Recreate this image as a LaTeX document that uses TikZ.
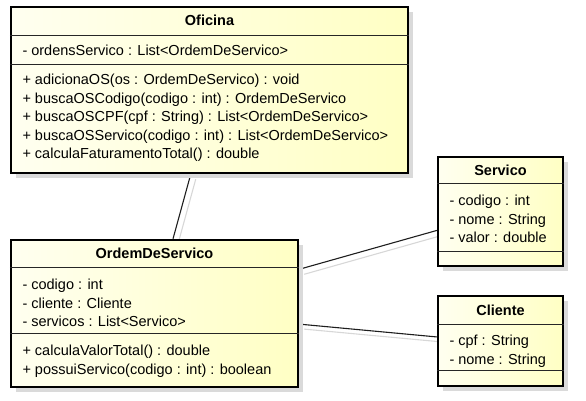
\documentclass[tikz,border=0pt]{standalone}
\usepackage{fontspec}
\setmainfont{Liberation Sans}
\usetikzlibrary{shadows,calc,backgrounds}
\definecolor{boxlight}{RGB}{255,255,240}
\definecolor{boxdark}{RGB}{255,255,196}
\definecolor{shadowgray}{RGB}{218,218,218}
\definecolor{lineshadow}{RGB}{215,215,215}
\definecolor{conn}{RGB}{30,30,30}
\begin{document}
\begin{tikzpicture}[x=1pt,y=-1pt,
  classbox/.style={draw=black, line width=2.4pt, inner sep=0pt,
    left color=boxlight, right color=boxdark,
    drop shadow={shadow xshift=5pt, shadow yshift=-5pt, fill=shadowgray, opacity=1}},
  sep/.style={draw=black!85, line width=1.1pt},
  ctitle/.style={anchor=center, inner sep=0pt, text height=10pt, text depth=3pt, font=\fontsize{14.5}{17}\selectfont\bfseries},
  member/.style={anchor=west, inner sep=0pt, text height=10pt, text depth=3pt, font=\fontsize{14.5}{17}\selectfont},
  assoc/.style={draw=conn, line width=1.1pt},
  assocshadow/.style={draw=lineshadow, line width=1.1pt}]
\useasboundingbox (0,0) rectangle (586,400);

% class boxes
\node[classbox, minimum width=397pt, minimum height=166pt] (ofi) at (209.5,90) {};
\node[classbox, minimum width=287pt, minimum height=147pt] (ods) at (154.5,313.5) {};
\node[classbox, minimum width=125pt, minimum height=109pt] (srv) at (500.5,211.5) {};
\node[classbox, minimum width=125pt, minimum height=90pt] (cli) at (500.5,341) {};

% compartments
\draw[sep] ([yshift=-30pt]ofi.north west) -- ([yshift=-30pt]ofi.north east);
\draw[sep] ([yshift=-58.5pt]ofi.north west) -- ([yshift=-58.5pt]ofi.north east);
\draw[sep] ([yshift=-28.5pt]ods.north west) -- ([yshift=-28.5pt]ods.north east);
\draw[sep] ([yshift=-95pt]ods.north west) -- ([yshift=-95pt]ods.north east);
\draw[sep] ([yshift=-27.5pt]srv.north west) -- ([yshift=-27.5pt]srv.north east);
\draw[sep] ([yshift=-96pt]srv.north west) -- ([yshift=-96pt]srv.north east);
\draw[sep] ([yshift=-29.5pt]cli.north west) -- ([yshift=-29.5pt]cli.north east);
\draw[sep] ([yshift=-76pt]cli.north west) -- ([yshift=-76pt]cli.north east);

% Oficina
\node[ctitle] (ofi-t) at ($(ofi.north)+(0,16.5)$) {Oficina};
\node[member] (ofi-a1) at ($(ofi.north west)+(12.5,46.5)$) {- ordensServico : List<OrdemDeServico>};
\node[member] (ofi-m1) at ($(ofi.north west)+(12.5,75.5)$) {+ adicionaOS(os : OrdemDeServico) : void};
\node[member] (ofi-m2) at ($(ofi.north west)+(12.5,94)$) {+ buscaOSCodigo(codigo : int) : OrdemDeServico};
\node[member] (ofi-m3) at ($(ofi.north west)+(12.5,112.5)$) {+ buscaOSCPF(cpf : String) : List<OrdemDeServico>};
\node[member] (ofi-m4) at ($(ofi.north west)+(12.5,131)$) {+ buscaOSServico(codigo : int) : List<OrdemDeServico>};
\node[member] (ofi-m5) at ($(ofi.north west)+(12.5,149.5)$) {+ calculaFaturamentoTotal() : double};

% OrdemDeServico
\node[ctitle] (ods-t) at ($(ods.north)+(0,16.5)$) {OrdemDeServico};
\node[member] (ods-a1) at ($(ods.north west)+(12.5,47.5)$) {- codigo : int};
\node[member] (ods-a2) at ($(ods.north west)+(12.5,66)$) {- cliente : Cliente};
\node[member] (ods-a3) at ($(ods.north west)+(12.5,84.5)$) {- servicos : List<Servico>};
\node[member] (ods-m1) at ($(ods.north west)+(12.5,113.5)$) {+ calculaValorTotal() : double};
\node[member] (ods-m2) at ($(ods.north west)+(12.5,132)$) {+ possuiServico(codigo : int) : boolean};

% Servico
\node[ctitle] (srv-t) at ($(srv.north)+(0,16.5)$) {Servico};
\node[member] (srv-a1) at ($(srv.north west)+(12.5,46.5)$) {- codigo : int};
\node[member] (srv-a2) at ($(srv.north west)+(12.5,65)$) {- nome : String};
\node[member] (srv-a3) at ($(srv.north west)+(12.5,83.5)$) {- valor : double};

% Cliente
\node[ctitle] (cli-t) at ($(cli.north)+(0,17.5)$) {Cliente};
\node[member] (cli-a1) at ($(cli.north west)+(12.5,47.5)$) {- cpf : String};
\node[member] (cli-a2) at ($(cli.north west)+(12.5,66)$) {- nome : String};

% associations
\coordinate (a1) at ($(ofi.south west)!0.453!(ofi.south east)$);
\coordinate (a2) at ($(ods.north west)!0.564!(ods.north east)$);
\coordinate (b1) at ($(ods.north east)!0.204!(ods.south east)$);
\coordinate (b2) at ($(srv.north west)!0.67!(srv.south west)$);
\coordinate (c1) at ($(ods.north east)!0.571!(ods.south east)$);
\coordinate (c2) at ($(cli.north west)!0.456!(cli.south west)$);
\begin{pgfonlayer}{background}
  \draw[assocshadow] ([xshift=5pt,yshift=-5pt]a1) -- ([xshift=5pt,yshift=-5pt]a2);
  \draw[assocshadow] ([xshift=5pt,yshift=-5pt]b1) -- ([xshift=5pt,yshift=-5pt]b2);
  \draw[assocshadow] ([xshift=5pt,yshift=-5pt]c1) -- ([xshift=5pt,yshift=-5pt]c2);
  \draw[assoc] (a1) -- (a2);
  \draw[assoc] (b1) -- (b2);
  \draw[assoc] (c1) -- (c2);
\end{pgfonlayer}
\end{tikzpicture}
\end{document}
